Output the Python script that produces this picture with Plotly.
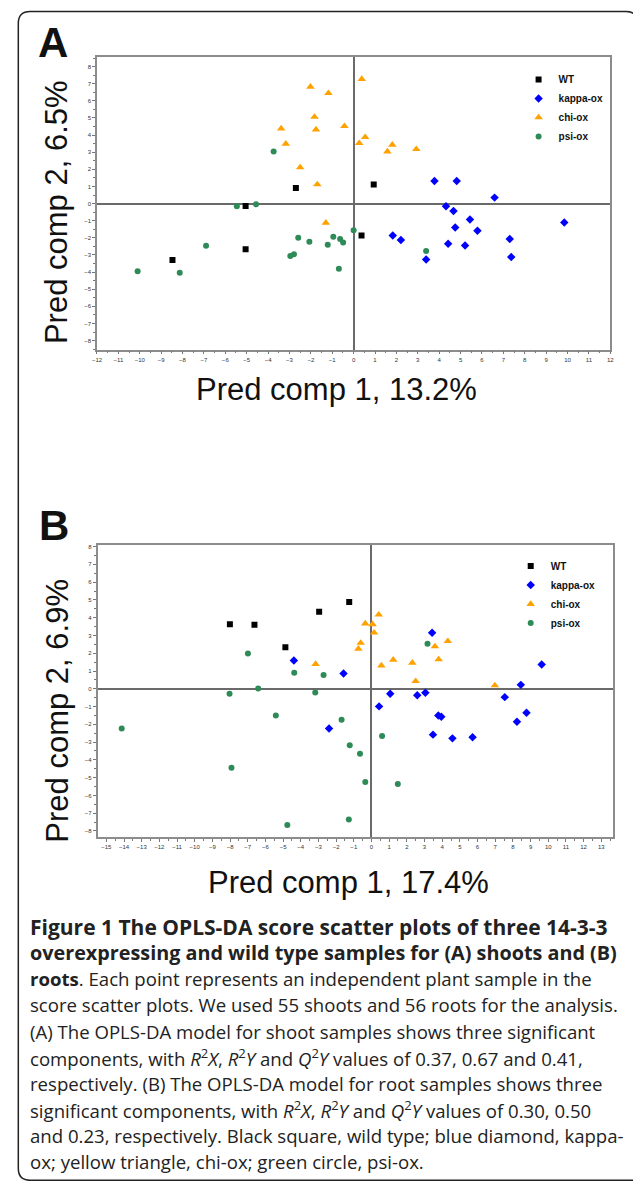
import plotly.graph_objects as go

W, H = 633, 1181

# ---------------- data: panel A (shoots) ----------------
A_wt_x = [-2.70, -5.05, -5.05, -8.47, 0.94, 0.37]
A_wt_y = [0.91, -0.14, -2.67, -3.29, 1.12, -1.86]

A_kappa_x = [3.78, 4.82, 6.59, 4.32, 4.67, 5.44, 4.75, 5.79, 9.85, 1.83, 2.21, 4.42, 5.21, 7.30, 7.37, 3.39]
A_kappa_y = [1.32, 1.32, 0.35, -0.16, -0.43, -0.93, -1.40, -1.59, -1.10, -1.86, -2.13, -2.34, -2.44, -2.07, -3.12, -3.26]

A_chi_x = [-2.02, -1.18, -1.83, -1.76, -3.39, -0.43, -3.17, -2.50, -1.70, -1.30, 0.38, 0.26, 0.54, 1.81, 1.58, 2.93]
A_chi_y = [6.82, 6.45, 5.06, 4.32, 4.38, 4.52, 3.49, 2.11, 1.12, -1.12, 7.27, 3.53, 3.88, 3.43, 3.04, 3.18]

A_psi_x = [-3.74, -5.46, -4.56, -10.10, -8.13, -6.90, -2.59, -2.96, -2.79, -2.07, -1.21, -0.95, -0.63, -0.49, -0.69, 0.00, 3.39]
A_psi_y = [3.04, -0.16, -0.04, -3.95, -4.03, -2.46, -2.00, -3.06, -2.95, -2.23, -2.40, -1.94, -2.07, -2.27, -3.80, -1.55, -2.77]

# ---------------- data: panel B (roots) ----------------
B_wt_x = [-8.01, -6.62, -2.96, -1.26, -4.87]
B_wt_y = [3.63, 3.60, 4.33, 4.89, 2.34]

B_kappa_x = [-4.39, -1.58, -2.40, 0.43, 3.43, 1.06, 2.59, 3.05, 3.78, 3.95, 3.48, 4.58, 5.72, 9.63, 8.45, 7.54, 8.77, 8.23]
B_kappa_y = [1.59, 0.86, -2.23, -0.99, 3.15, -0.28, -0.36, -0.22, -1.50, -1.57, -2.58, -2.79, -2.73, 1.37, 0.22, -0.47, -1.35, -1.85]

B_chi_x = [-3.16, -0.35, 0.06, 0.15, -0.61, -0.74, 0.41, 0.56, 1.23, 2.31, 2.50, 3.59, 4.32, 3.80, 6.98]
B_chi_y = [1.39, 3.67, 3.63, 3.16, 2.58, 2.25, 4.17, 1.31, 1.63, 1.46, 0.43, 2.38, 2.68, 1.65, 0.19]

B_psi_x = [-14.13, -6.99, -8.03, -6.41, -7.92, -5.41, -4.37, -2.71, -3.18, -1.69, -1.23, -0.65, -0.35, -1.28, -4.76, 3.17, 0.60, 1.49]
B_psi_y = [-2.23, 1.99, -0.28, 0.02, -4.44, -1.50, 0.90, 0.77, -0.21, -1.74, -3.18, -3.65, -5.24, -7.36, -7.66, 2.53, -2.66, -5.36]

group_names = ["WT", "kappa-ox", "chi-ox", "psi-ox"]

x_title_A = "Pred comp 1, 13.2%"
y_title_A = "Pred comp 2, 6.5%"
x_title_B = "Pred comp 1, 17.4%"
y_title_B = "Pred comp 2, 6.9%"

caption_bold_lines = [
    "Figure 1 The OPLS-DA score scatter plots of three 14-3-3",
    "overexpressing and wild type samples for (A) shoots and (B)",
]
caption_bold_sizes = [21, 19.8]
caption_lines = [
    "<b>roots</b>. Each point represents an independent plant sample in the",
    "score scatter plots. We used 55 shoots and 56 roots for the analysis.",
    "(A) The OPLS-DA model for shoot samples shows three significant",
    "components, with <i>R</i><sup>2</sup><i>X</i>, <i>R</i><sup>2</sup><i>Y</i> and <i>Q</i><sup>2</sup><i>Y</i> values of 0.37, 0.67 and 0.41,",
    "respectively. (B) The OPLS-DA model for root samples shows three",
    "significant components, with <i>R</i><sup>2</sup><i>X</i>, <i>R</i><sup>2</sup><i>Y</i> and <i>Q</i><sup>2</sup><i>Y</i> values of 0.30, 0.50",
    "and 0.23, respectively. Black square, wild type; blue diamond, kappa-",
    "ox; yellow triangle, chi-ox; green circle, psi-ox.",
]

# ---------------- styles ----------------
styles = [
    dict(symbol="square", color="#000000", size=6),
    dict(symbol="diamond", color="#0000FF", size=6.5),
    dict(symbol="triangle-up", color="#FFA200", size=7.5),
    dict(symbol="circle", color="#2E8B57", size=6),
]


def px(xp):
    return xp / W


def py(yp):
    return 1 - yp / H


fig = go.Figure()

panels = [
    ("x", "y", "legend", [(A_wt_x, A_wt_y), (A_kappa_x, A_kappa_y), (A_chi_x, A_chi_y), (A_psi_x, A_psi_y)]),
    ("x2", "y2", "legend2", [(B_wt_x, B_wt_y), (B_kappa_x, B_kappa_y), (B_chi_x, B_chi_y), (B_psi_x, B_psi_y)]),
]
for xa, ya, lg, groups in panels:
    for name, (gx, gy), st in zip(group_names, groups, styles):
        fig.add_trace(go.Scatter(
            x=gx, y=gy, mode="markers", name=name,
            xaxis=xa, yaxis=ya, legend=lg,
            marker=dict(symbol=st["symbol"], color=st["color"], size=st["size"],
                        line=dict(width=0)),
        ))

tickfont = dict(family="Liberation Sans, Arial", size=6, color="#333333")
axis_common = dict(
    showline=True, mirror=True, linecolor="#8c8c8c", linewidth=1.5,
    showgrid=False, zeroline=True, zerolinecolor="#6a6a6a", zerolinewidth=1.5,
    ticks="outside", ticklen=3, tickwidth=1, tickcolor="#777777",
    dtick=1, tick0=0, tickfont=tickfont,
    minor=dict(dtick=0.5, ticks="outside", ticklen=2, tickcolor="#777777", showgrid=False),
    fixedrange=True,
)

legend_font = dict(family="Liberation Sans, Arial", size=10, weight="bold", color="#111111")
fig.update_layout(
    width=W, height=H,
    margin=dict(l=0, r=0, t=0, b=0),
    paper_bgcolor="white", plot_bgcolor="white",
    font=dict(family="Liberation Sans, Arial"),
    xaxis=dict(domain=[px(93.3), px(614)], range=[-12, 12], anchor="y", **axis_common),
    yaxis=dict(domain=[py(349), py(55.7)], range=[-8.53, 8.58], anchor="x", **axis_common),
    xaxis2=dict(domain=[px(94), px(616.7)], range=[-15.49, 13.66], anchor="y2", **axis_common),
    yaxis2=dict(domain=[py(836.7), py(544.3)], range=[-8.34, 8.1], anchor="x2", **axis_common),
    legend=dict(x=px(521), y=py(64), xanchor="left", yanchor="top", font=legend_font,
                bgcolor="rgba(0,0,0,0)", tracegroupgap=0, itemwidth=30),
    legend2=dict(x=px(513), y=py(551), xanchor="left", yanchor="top", font=legend_font,
                 bgcolor="rgba(0,0,0,0)", tracegroupgap=0, itemwidth=30),
    showlegend=True,
)

big = dict(family="Liberation Sans, Arial", size=31, color="#111111")
ann = []
ann.append(dict(text="<b>A</b>", x=px(49), y=py(42), font=dict(family="Liberation Sans, Arial", size=42, color="#111111")))
ann.append(dict(text="<b>B</b>", x=px(50), y=py(525), font=dict(family="Liberation Sans, Arial", size=42, color="#111111")))
ann.append(dict(text=y_title_A, x=px(53), y=py(211), textangle=-90, font=big))
ann.append(dict(text=x_title_A, x=px(336), y=py(389), font=big))
ann.append(dict(text=y_title_B, x=px(53), y=py(710), textangle=-90, font=big))
ann.append(dict(text=x_title_B, x=px(348), y=py(882), font=big))

cap_y0, cap_dy = 926.5, 26.1
row = 0
for line, fs in zip(caption_bold_lines, caption_bold_sizes):
    ann.append(dict(text=line, x=px(23), y=py(cap_y0 + row * cap_dy), xanchor="left",
                    font=dict(family="Open Sans", size=fs, weight="bold", color="#222222")))
    row += 1
for line in caption_lines:
    ann.append(dict(text=line, x=px(23), y=py(cap_y0 + row * cap_dy), xanchor="left",
                    font=dict(family="Open Sans", size=18.6, color="#222222")))
    row += 1

for a in ann:
    a.setdefault("xanchor", "center")
    a.update(xref="paper", yref="paper", showarrow=False, yanchor="middle")
fig.update_layout(annotations=ann)

# rounded frame around the whole figure (partly cut at the right edge)
x0, y0, x1, y1, r = 13.5, 10.5, 642, 1180.3, 12
rx, ry = r / W, r / H
path = (f"M {px(x1)},{py(y1)} L {px(x0) + rx},{py(y1)} "
        f"Q {px(x0)},{py(y1)} {px(x0)},{py(y1) + ry} "
        f"L {px(x0)},{py(y0) - ry} "
        f"Q {px(x0)},{py(y0)} {px(x0) + rx},{py(y0)} "
        f"L {px(x1) - rx},{py(y0)} Q {px(x1)},{py(y0)} {px(x1)},{py(y0) - ry} "
        f"L {px(x1)},{py(y1)}")
fig.add_shape(type="path", path=path, xref="paper", yref="paper",
              line=dict(color="#222222", width=1.5), layer="above")

fig.write_html("out.html", config={"displayModeBar": False},
               post_script="document.body.style.margin='0px';")
